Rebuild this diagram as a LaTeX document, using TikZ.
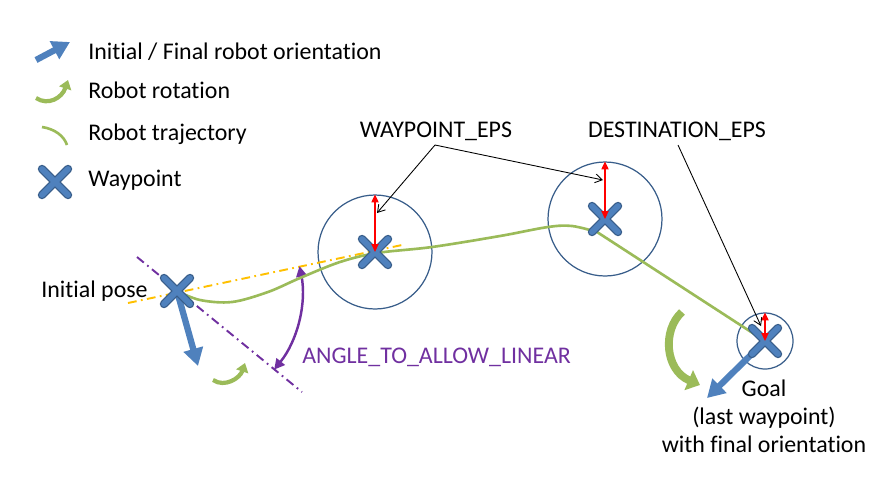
\documentclass[tikz,border=0pt]{standalone}
\usepackage{fontspec}
\setmainfont{Carlito}[Ligatures=CommonOff]
\usepackage{xcolor}
\usepackage{tikz}
\usetikzlibrary{arrows.meta,positioning,calc}
\definecolor{wpblue}{HTML}{4F81BD}
\definecolor{wpedge}{HTML}{385D8A}
\definecolor{trajgreen}{HTML}{9BBB59}
\definecolor{angpurple}{HTML}{7030A0}
\definecolor{lineyellow}{HTML}{FFC000}
\tikzset{wpx/.pic={
  \draw[wpedge,line width=4.8pt,line cap=round] (-13,-13)--(13,13) (-13,13)--(13,-13);
  \draw[wpblue,line width=3.3pt,line cap=round] (-13,-13)--(13,13) (-13,13)--(13,-13);}}

\begin{document}
\begin{tikzpicture}[x=0.02cm,y=-0.02cm, font=\fontsize{13.6}{15.9}\selectfont,
  lbl/.style={anchor=base west,inner sep=0},
  epsc/.style={draw=wpedge,line width=0.7pt,circle,inner sep=0},
  eps/.style={red,line width=0.9pt,{Triangle[length=4.5pt,width=4pt]}-{Triangle[length=4.5pt,width=4pt]}},
  note/.style={line width=0.5pt,-{Straight Barb[length=4pt,width=5pt]}},
  traj/.style={trajgreen,line width=1.5pt},
  orient/.style={wpblue,line width=3.6pt,-{Triangle[length=10pt,width=11pt]}},
  rot/.style={trajgreen,line width=2.4pt,-{Triangle[length=5pt,width=7pt]}},
  dashdot/.style={line width=1.1pt,dash pattern=on 5pt off 2.5pt on 1pt off 2.5pt},
  angarr/.style={angpurple,line width=1.4pt,{Triangle[length=6pt,width=6pt]}-{Triangle[length=6pt,width=6pt]}}]
\useasboundingbox (0,0) rectangle (889,498);
% legend
\draw[orient] (36,60) -- (70,42);
\node[lbl] (legorient) at (88,59) {Initial / Final robot orientation};
\draw[rot] (36,98) .. controls (48,106) and (62,98) .. (68,80);
\node[lbl] (legrot) at (88,98) {Robot rotation};
\draw[traj] (42,127) .. controls (55,129) and (64,136) .. (67,145);
\node[lbl] (legtraj) at (88,140) {Robot trajectory};
\pic at (55,182) {wpx};
\node[lbl] (legwp) at (88,186) {Waypoint};
% poses
\coordinate (start) at (177,291);
\coordinate (wpa) at (375,252);
\coordinate (wpb) at (605,219);
\coordinate (goal) at (765,341);
\node[epsc,minimum size=2.28cm] (ca) at (wpa) {};
\node[epsc,minimum size=2.28cm] (cb) at (wpb) {};
\node[epsc,minimum size=1.12cm] (cc) at (goal) {};
% reference lines and angle
\coordinate (ya) at (128,303);
\coordinate (yb) at (402,245);
\coordinate (pa) at (137,257);
\coordinate (pb) at (302,392);
\draw[dashdot,lineyellow] (ya) -- (yb);
\draw[dashdot,angpurple] (pa) -- (pb);
\draw[angarr] ($(start)+(11.5:2.5cm)$) arc[start angle=11.5,end angle=-39,radius=2.5cm];
\node[lbl,angpurple] (anglbl) at (302,363) {ANGLE\_TO\_ALLOW\_LINEAR};
% trajectory
\draw[traj] plot[smooth,tension=0.55] coordinates {(177,291) (200,300) (232,302) (268,292) (300,278) (340,262) (377,253) (432,247) (500,236) (548,227) (572,226) (597,232)} -- (goal);
% orientations and rotations
\coordinate (startdir) at (198,366);
\coordinate (goaldir) at (707,398);
\draw[orient] (start) -- (startdir);
\draw[orient] (goal) -- (goaldir);
\draw[rot] (213,380) .. controls (225,388) and (240,378) .. (245,363);
\draw[trajgreen,line width=4.5pt,-{Triangle[length=7pt,width=12pt]}] (682,312) .. controls (662,330) and (665,370) .. (700,385);
% waypoints
\pic at (start) {wpx};
\pic at (wpa) {wpx};
\pic at (wpb) {wpx};
\pic at (goal) {wpx};
\draw[eps] (wpa) -- (ca.north);
\draw[eps] (wpb) -- (cb.north);
\draw[eps] (goal) -- (cc.north);
% labels
\node[anchor=base east,inner sep=0] (startlbl) at (148,297) {Initial pose};
\node[anchor=base,inner sep=0] (wplbl) at (436,137) {WAYPOINT\_EPS};
\node[anchor=base,inner sep=0] (destlbl) at (677,137) {DESTINATION\_EPS};
\coordinate (wapex) at (435,145);
\coordinate (dapex) at (678,145);
\coordinate (watip) at (377,213);
\coordinate (wbtip) at (603,180);
\coordinate (dtip) at (761,326);
\draw[note] (wapex) -- (watip);
\draw[note] (wapex) -- (wbtip);
\draw[note] (dapex) -- (dtip);
\node[anchor=base,align=center,inner sep=0] (goallbl) at (764,452) {Goal\\(last waypoint)\\with final orientation};
\end{tikzpicture}
\end{document}
